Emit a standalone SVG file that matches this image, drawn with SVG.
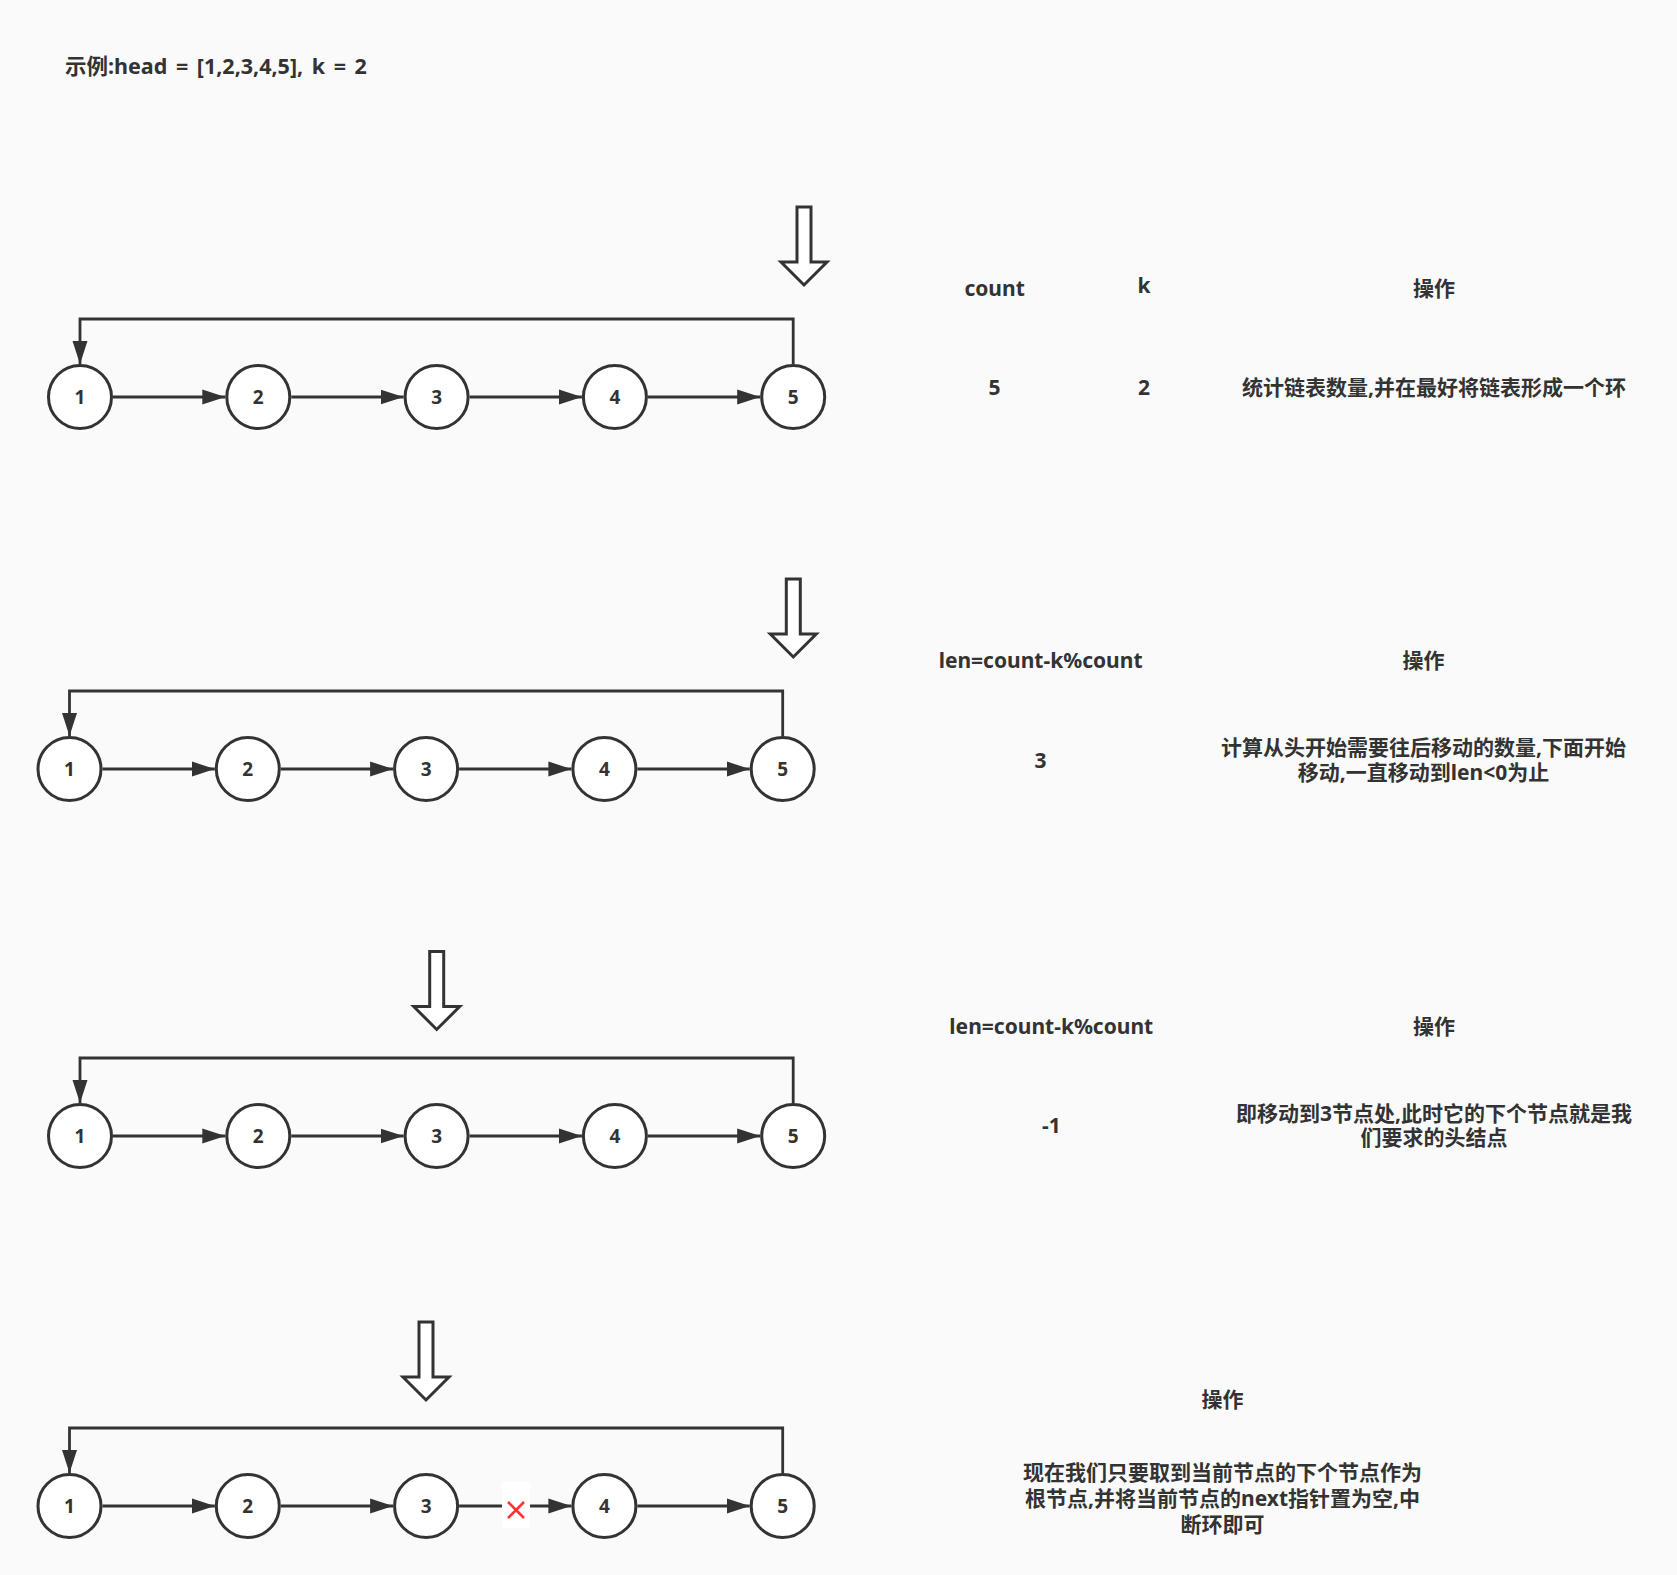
<svg xmlns="http://www.w3.org/2000/svg" width="1677" height="1575" viewBox="0 0 1677 1575">
<defs>
<style>
.bg{fill:#fafafa}
.node circle{fill:#ffffff;stroke:#333333;stroke-width:3}
.node text{font-family:"Noto Sans","Noto Sans CJK SC",sans-serif;font-weight:bold;font-size:19px;fill:#333333;text-anchor:middle}
.edge{fill:none;stroke:#333333;stroke-width:2.8}
.blk{fill:#ffffff;stroke:#333333;stroke-width:3;stroke-linejoin:miter}
.t{font-family:"Noto Sans","Noto Sans CJK SC",sans-serif;font-weight:bold;font-size:21px;fill:#333333;text-anchor:middle}
.title{font-family:"Noto Sans","Noto Sans CJK SC",sans-serif;font-weight:bold;font-size:21.5px;word-spacing:3px;fill:#333333}
</style>
<marker id="ah" markerUnits="userSpaceOnUse" markerWidth="24" markerHeight="16" refX="23" refY="8" orient="auto">
<path d="M0,0.5 L23,8 L0,15.5 Z" fill="#333333"/>
</marker>
</defs>
<rect class="bg" x="0" y="0" width="1677" height="1575"/>
<text class="title" x="65" y="74">示例:head = [1,2,3,4,5], k = 2</text>

<g id="connectors">
<path class="edge" d="M113,397 H225.3" marker-end="url(#ah)"/>
<path class="edge" d="M291.3,397 H403.6" marker-end="url(#ah)"/>
<path class="edge" d="M469.6,397 H581.9" marker-end="url(#ah)"/>
<path class="edge" d="M647.9,397 H760.2" marker-end="url(#ah)"/>
<path class="edge" d="M793.2,364 V319 H80 V364" marker-end="url(#ah)"/>
<path class="edge" d="M102.5,769 H214.8" marker-end="url(#ah)"/>
<path class="edge" d="M280.8,769 H393.1" marker-end="url(#ah)"/>
<path class="edge" d="M459.1,769 H571.4" marker-end="url(#ah)"/>
<path class="edge" d="M637.4,769 H749.7" marker-end="url(#ah)"/>
<path class="edge" d="M782.7,736 V691 H69.5 V736" marker-end="url(#ah)"/>
<path class="edge" d="M113,1136 H225.3" marker-end="url(#ah)"/>
<path class="edge" d="M291.3,1136 H403.6" marker-end="url(#ah)"/>
<path class="edge" d="M469.6,1136 H581.9" marker-end="url(#ah)"/>
<path class="edge" d="M647.9,1136 H760.2" marker-end="url(#ah)"/>
<path class="edge" d="M793.2,1103 V1058 H80 V1103" marker-end="url(#ah)"/>
<path class="edge" d="M102.5,1506 H214.8" marker-end="url(#ah)"/>
<path class="edge" d="M280.8,1506 H393.1" marker-end="url(#ah)"/>
<path class="edge" d="M459.1,1506 H571.4" marker-end="url(#ah)"/>
<path class="edge" d="M637.4,1506 H749.7" marker-end="url(#ah)"/>
<path class="edge" d="M782.7,1473 V1428 H69.5 V1473" marker-end="url(#ah)"/>
<g id="cut-mark">
<rect x="502" y="1482" width="28" height="46" fill="#ffffff"/>
<path d="M508,1502 L524,1518 M524,1502 L508,1518" stroke="#ff3333" stroke-width="2.6" fill="none"/>
</g>
</g>

<g id="block-arrows">
<path id="barrow1" class="blk" d="M797,207 H811 V262 H827 L804,285 L781,262 H797 Z"/>
<path id="barrow2" class="blk" d="M786.3,579 H800.3 V634 H816.3 L793.3,657 L770.3,634 H786.3 Z"/>
<path id="barrow3" class="blk" d="M429.7,951.5 H443.7 V1006.5 H459.7 L436.7,1029.5 L413.7,1006.5 H429.7 Z"/>
<path id="barrow4" class="blk" d="M419,1322 H433 V1377 H449 L426,1400 L403,1377 H419 Z"/>
</g>

<g id="row1-nodes">
<g id="r1n1" class="node"><circle cx="80" cy="397" r="31.5"/><text x="80" y="404">1</text></g>
<g id="r1n2" class="node"><circle cx="258.3" cy="397" r="31.5"/><text x="258.3" y="404">2</text></g>
<g id="r1n3" class="node"><circle cx="436.6" cy="397" r="31.5"/><text x="436.6" y="404">3</text></g>
<g id="r1n4" class="node"><circle cx="614.9" cy="397" r="31.5"/><text x="614.9" y="404">4</text></g>
<g id="r1n5" class="node"><circle cx="793.2" cy="397" r="31.5"/><text x="793.2" y="404">5</text></g>
</g>
<g id="row2-nodes">
<g id="r2n1" class="node"><circle cx="69.5" cy="769" r="31.5"/><text x="69.5" y="776">1</text></g>
<g id="r2n2" class="node"><circle cx="247.8" cy="769" r="31.5"/><text x="247.8" y="776">2</text></g>
<g id="r2n3" class="node"><circle cx="426.1" cy="769" r="31.5"/><text x="426.1" y="776">3</text></g>
<g id="r2n4" class="node"><circle cx="604.4" cy="769" r="31.5"/><text x="604.4" y="776">4</text></g>
<g id="r2n5" class="node"><circle cx="782.7" cy="769" r="31.5"/><text x="782.7" y="776">5</text></g>
</g>
<g id="row3-nodes">
<g id="r3n1" class="node"><circle cx="80" cy="1136" r="31.5"/><text x="80" y="1143">1</text></g>
<g id="r3n2" class="node"><circle cx="258.3" cy="1136" r="31.5"/><text x="258.3" y="1143">2</text></g>
<g id="r3n3" class="node"><circle cx="436.6" cy="1136" r="31.5"/><text x="436.6" y="1143">3</text></g>
<g id="r3n4" class="node"><circle cx="614.9" cy="1136" r="31.5"/><text x="614.9" y="1143">4</text></g>
<g id="r3n5" class="node"><circle cx="793.2" cy="1136" r="31.5"/><text x="793.2" y="1143">5</text></g>
</g>
<g id="row4-nodes">
<g id="r4n1" class="node"><circle cx="69.5" cy="1506" r="31.5"/><text x="69.5" y="1513">1</text></g>
<g id="r4n2" class="node"><circle cx="247.8" cy="1506" r="31.5"/><text x="247.8" y="1513">2</text></g>
<g id="r4n3" class="node"><circle cx="426.1" cy="1506" r="31.5"/><text x="426.1" y="1513">3</text></g>
<g id="r4n4" class="node"><circle cx="604.4" cy="1506" r="31.5"/><text x="604.4" y="1513">4</text></g>
<g id="r4n5" class="node"><circle cx="782.7" cy="1506" r="31.5"/><text x="782.7" y="1513">5</text></g>
</g>

<g id="row1-table">
<text class="t" x="994.6" y="296">count</text>
<text class="t" x="1144" y="293">k</text>
<text class="t" x="1434" y="296">操作</text>
<text class="t" x="994.6" y="395">5</text>
<text class="t" x="1144" y="395">2</text>
<text class="t" x="1434" y="395">统计链表数量,并在最好将链表形成一个环</text>
</g>
<g id="row2-table">
<text class="t" x="1040.6" y="668">len=count-k%count</text>
<text class="t" x="1423.5" y="668">操作</text>
<text class="t" x="1040.6" y="767.5">3</text>
<text class="t" x="1423.5" y="755">计算从头开始需要往后移动的数量,下面开始</text>
<text class="t" x="1423.5" y="779.5">移动,一直移动到len&lt;0为止</text>
</g>
<g id="row3-table">
<text class="t" x="1051.3" y="1034">len=count-k%count</text>
<text class="t" x="1434" y="1034">操作</text>
<text class="t" x="1051.3" y="1133">-1</text>
<text class="t" x="1434" y="1120.5">即移动到3节点处,此时它的下个节点就是我</text>
<text class="t" x="1434" y="1145">们要求的头结点</text>
</g>
<g id="row4-table">
<text class="t" x="1222.5" y="1407">操作</text>
<text class="t" x="1222.5" y="1480">现在我们只要取到当前节点的下个节点作为</text>
<text class="t" x="1222.5" y="1506">根节点,并将当前节点的next指针置为空,中</text>
<text class="t" x="1222.5" y="1532">断环即可</text>
</g>
</svg>
